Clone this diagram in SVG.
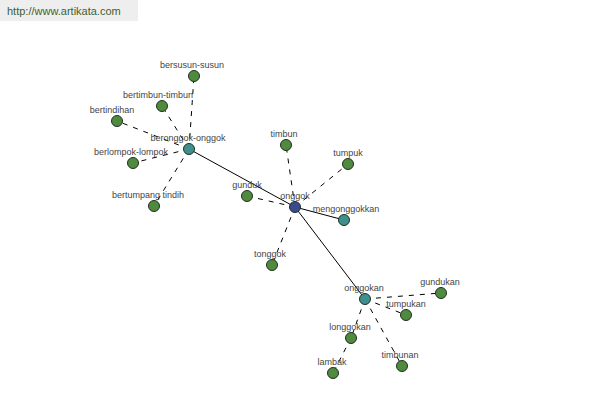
<svg xmlns="http://www.w3.org/2000/svg" width="600" height="400" viewBox="0 0 600 400">
<style>
.e{stroke:#000;stroke-width:1;fill:none}
.d{stroke-dasharray:5,6}
.n{stroke:#1f2f1f;stroke-width:1}
.g{fill:#4f8a3f}
.t{fill:#3f8f8f}
.b{fill:#3a4a8c}
text{font-family:"Liberation Sans",Arial,sans-serif;font-size:9px;fill:#444;text-anchor:middle}
</style>
<rect width="600" height="400" fill="#fff"/>
<rect x="0" y="0" width="138" height="21" fill="#eeeeee"/>
<text x="7" y="15" style="font-size:11px;fill:#3f5f2f;text-anchor:start">http://www.artikata.com</text>
<g id="edges">
<line class="e" x1="295" y1="207" x2="189" y2="149"/>
<line class="e" x1="295" y1="207" x2="344" y2="220"/>
<line class="e" x1="295" y1="207" x2="365" y2="299"/>
<line class="e d" x1="295" y1="207" x2="286" y2="145"/>
<line class="e d" x1="295" y1="207" x2="348" y2="164"/>
<line class="e d" x1="295" y1="207" x2="247" y2="196"/>
<line class="e d" x1="295" y1="207" x2="272" y2="265"/>
<line class="e d" x1="189" y1="149" x2="194" y2="76"/>
<line class="e d" x1="189" y1="149" x2="162" y2="106"/>
<line class="e d" x1="189" y1="149" x2="117" y2="121"/>
<line class="e d" x1="189" y1="149" x2="133" y2="163"/>
<line class="e d" x1="189" y1="149" x2="154" y2="206"/>
<line class="e d" x1="365" y1="299" x2="441" y2="293"/>
<line class="e d" x1="365" y1="299" x2="406" y2="315"/>
<line class="e d" x1="365" y1="299" x2="351" y2="338"/>
<line class="e d" x1="351" y1="338" x2="333" y2="373"/>
<line class="e d" x1="365" y1="299" x2="402" y2="366"/>
</g>
<g id="n-bersusun-susun"><circle class="n g" cx="194" cy="76" r="5.5"/><text x="192" y="68">bersusun-susun</text></g>
<g id="n-bertimbun-timbun"><circle class="n g" cx="162" cy="106" r="5.5"/><text x="158" y="98">bertimbun-timbun</text></g>
<g id="n-bertindihan"><circle class="n g" cx="117" cy="121" r="5.5"/><text x="112" y="113">bertindihan</text></g>
<g id="n-berlompok-lompok"><circle class="n g" cx="133" cy="163" r="5.5"/><text x="131" y="155">berlompok-lompok</text></g>
<g id="n-bertumpang-tindih"><circle class="n g" cx="154" cy="206" r="5.5"/><text x="148" y="198">bertumpang tindih</text></g>
<g id="n-beronggok-onggok"><circle class="n t" cx="189" cy="149" r="5.5"/><text x="188" y="141">beronggok-onggok</text></g>
<g id="n-timbun"><circle class="n g" cx="286" cy="145" r="5.5"/><text x="284" y="137">timbun</text></g>
<g id="n-tumpuk"><circle class="n g" cx="348" cy="164" r="5.5"/><text x="348" y="156">tumpuk</text></g>
<g id="n-gunduk"><circle class="n g" cx="247" cy="196" r="5.5"/><text x="247" y="188">gunduk</text></g>
<g id="n-onggok"><circle class="n b" cx="295" cy="207" r="5.5"/><text x="295" y="199">onggok</text></g>
<g id="n-mengonggokkan"><circle class="n t" cx="344" cy="220" r="5.5"/><text x="346" y="212">mengonggokkan</text></g>
<g id="n-tonggok"><circle class="n g" cx="272" cy="265" r="5.5"/><text x="270" y="257">tonggok</text></g>
<g id="n-onggokan"><circle class="n t" cx="365" cy="299" r="5.5"/><text x="364" y="291">onggokan</text></g>
<g id="n-gundukan"><circle class="n g" cx="441" cy="293" r="5.5"/><text x="440" y="285">gundukan</text></g>
<g id="n-tumpukan"><circle class="n g" cx="406" cy="315" r="5.5"/><text x="406" y="307">tumpukan</text></g>
<g id="n-longgokan"><circle class="n g" cx="351" cy="338" r="5.5"/><text x="350" y="330">longgokan</text></g>
<g id="n-lambak"><circle class="n g" cx="333" cy="373" r="5.5"/><text x="332" y="365">lambak</text></g>
<g id="n-timbunan"><circle class="n g" cx="402" cy="366" r="5.5"/><text x="400" y="358">timbunan</text></g>
</svg>
